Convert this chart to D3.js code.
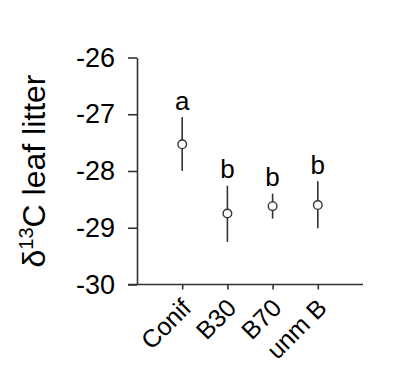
<!DOCTYPE html>
<html>
<head>
<meta charset="utf-8">
<script src="https://cdn.jsdelivr.net/npm/d3@7"></script>
<style>
  body { margin: 0; background: #fff; }
  svg text { font-family: "Liberation Sans", Arial, sans-serif; fill: #000; }
</style>
</head>
<body>
<div id="chart"></div>
<script>
// groups and values (delta 13C, per mil)
const categories = ['Conif', 'B30', 'B70', 'unm B'];
const means = [-27.53, -28.75, -28.62, -28.60];
const lower = [-28.00, -29.25, -28.84, -29.01];
const upper = [-27.05, -28.26, -28.40, -28.18];
const letters = ['a', 'b', 'b', 'b'];
const yTicks = [-30, -29, -28, -27, -26];

const width = 407, height = 367;
const svg = d3.select('#chart').append('svg')
  .attr('width', width)
  .attr('height', height);

const x = d3.scalePoint()
  .domain(categories)
  .range([137, 363])
  .padding(1);

const y = d3.scaleLinear()
  .domain([-30, -26])
  .range([284.5, 57.5]);

const axisColor = '#333';

// y axis
const gy = svg.append('g')
  .attr('transform', 'translate(137,0)')
  .call(d3.axisLeft(y).tickValues(yTicks).tickFormat(d => String(d))
    .tickSize(9).tickPadding(13).tickSizeOuter(0));
gy.select('.domain').attr('stroke', axisColor).attr('stroke-width', 1.6);
gy.selectAll('.tick line').attr('stroke', axisColor).attr('stroke-width', 1.6);
gy.selectAll('.tick text')
  .style('font-size', '27px')
  .attr('font-family', null);

// x axis
const gx = svg.append('g')
  .attr('transform', 'translate(0,284.5)')
  .call(d3.axisBottom(x).tickSize(5).tickSizeOuter(0));
gx.select('.domain').attr('stroke', axisColor).attr('stroke-width', 1.6)
  .attr('d', 'M128,0H363');
gx.selectAll('.tick line').attr('stroke', axisColor).attr('stroke-width', 1.6);
gx.selectAll('.tick text')
  .attr('y', 0).attr('dy', null)
  .attr('transform', 'translate(10,25) rotate(-45)')
  .style('text-anchor', 'end')
  .style('font-size', '25px')
  .attr('font-family', null);

// error bars
svg.selectAll('.err')
  .data(categories)
  .enter().append('line')
    .attr('class', 'err')
    .attr('x1', d => x(d)).attr('x2', d => x(d))
    .attr('y1', (d, i) => y(lower[i]))
    .attr('y2', (d, i) => y(upper[i]))
    .attr('stroke', axisColor)
    .attr('stroke-width', 1.6);

// means
svg.selectAll('.pt')
  .data(categories)
  .enter().append('circle')
    .attr('class', 'pt')
    .attr('cx', d => x(d))
    .attr('cy', (d, i) => y(means[i]))
    .attr('r', 4.3)
    .attr('fill', '#fff')
    .attr('stroke', axisColor)
    .attr('stroke-width', 1.4);

// significance letters
svg.selectAll('.lett')
  .data(categories)
  .enter().append('text')
    .attr('class', 'lett')
    .attr('x', d => x(d))
    .attr('y', (d, i) => y(upper[i]) - 7.5)
    .attr('text-anchor', 'middle')
    .style('font-size', '26px')
    .text((d, i) => letters[i]);

// y axis title
const yt = svg.append('text')
  .attr('transform', 'translate(45,171) rotate(-90)')
  .attr('text-anchor', 'middle')
  .style('font-size', '32px');
yt.append('tspan').text('\u03b4');
yt.append('tspan').attr('dy', -12).style('font-size', '20px').text('13');
yt.append('tspan').attr('dy', 12).text('C leaf litter');
</script>
</body>
</html>
